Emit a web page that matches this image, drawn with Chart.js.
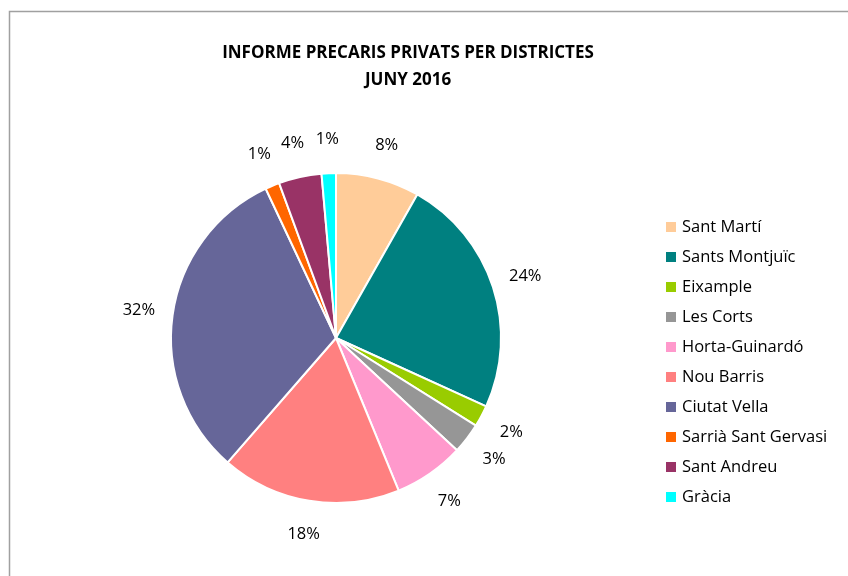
<!DOCTYPE html>
<html>
<head>
<meta charset="utf-8">
<script src="https://cdn.jsdelivr.net/npm/chart.js@4"></script>
<style>
  html, body { margin: 0; padding: 0; background: #fff; }
  #wrap { width: 848px; height: 576px; }
</style>
</head>
<body>
<div id="wrap"><canvas id="chart" width="848" height="576"></canvas></div>
<script>
// Dades (percentatges llegits del gràfic)
const districtes = ['Sant Martí', 'Sants Montjuïc', 'Eixample', 'Les Corts', 'Horta-Guinardó',
    'Nou Barris', 'Ciutat Vella', 'Sarrià Sant Gervasi', 'Sant Andreu', 'Gràcia'];
const valors = [8.2, 23.6, 2.1, 3.0, 6.9, 17.6, 31.6, 1.4, 4.2, 1.4];
const colors = ['#FFCC99', '#008080', '#99CC00', '#969696', '#FF99CC',
    '#FF8080', '#666699', '#FF6600', '#993366', '#00FFFF'];
const titol = ['INFORME PRECARIS PRIVATS PER DISTRICTES', 'JUNY 2016'];

const FONT = '"Open Sans", Lato, sans-serif';

// Marc gris del gràfic
const framePlugin = {
    id: 'frame',
    beforeDraw: function(chart) {
        const ctx = chart.ctx;
        ctx.save();
        ctx.strokeStyle = '#a0a0a0';
        ctx.lineWidth = 1.5;
        ctx.beginPath();
        ctx.moveTo(9.5, chart.height);
        ctx.lineTo(9.5, 11.5);
        ctx.lineTo(chart.width, 11.5);
        ctx.stroke();
        ctx.restore();
    }
};

// Títol en dues línies
const titlePlugin = {
    id: 'titol',
    afterDraw: function(chart) {
        const ctx = chart.ctx;
        ctx.save();
        ctx.font = 'bold 17px ' + FONT;
        ctx.fillStyle = '#000';
        ctx.textAlign = 'center';
        ctx.textBaseline = 'middle';
        titol.forEach(function(line, i) {
            ctx.fillText(line, 408, 53 + i * 27);
        });
        ctx.restore();
    }
};

// Llegenda a la dreta
const legendPlugin = {
    id: 'llegenda',
    afterDraw: function(chart) {
        const ctx = chart.ctx;
        const ds = chart.data.datasets[0];
        ctx.save();
        ctx.font = '16.5px ' + FONT;
        ctx.textAlign = 'left';
        ctx.textBaseline = 'middle';
        chart.data.labels.forEach(function(label, i) {
            const y = 227 + i * 30;
            ctx.fillStyle = ds.backgroundColor[i];
            ctx.fillRect(666, y - 5, 10, 10);
            ctx.fillStyle = '#000';
            ctx.fillText(label, 682, y);
        });
        ctx.restore();
    }
};

// Etiquetes de percentatge fora de cada porció
const pctLabels = {
    id: 'pctLabels',
    afterDatasetsDraw: function(chart) {
        const ctx = chart.ctx;
        const data = chart.data.datasets[0].data;
        const total = data.reduce((a, b) => a + b, 0);
        ctx.save();
        ctx.font = '16.5px ' + FONT;
        ctx.fillStyle = '#000';
        ctx.textAlign = 'center';
        ctx.textBaseline = 'middle';
        chart.getDatasetMeta(0).data.forEach(function(arc, i) {
            const p = arc.getProps(['x', 'y', 'startAngle', 'endAngle', 'outerRadius'], true);
            const mid = (p.startAngle + p.endAngle) / 2;
            const r = p.outerRadius + 34;
            const txt = Math.round(data[i] / total * 100) + '%';
            ctx.fillText(txt, p.x + Math.cos(mid) * r, p.y + Math.sin(mid) * r);
        });
        ctx.restore();
    }
};

new Chart(document.getElementById('chart'), {
    type: 'pie',
    data: {
        labels: districtes,
        datasets: [{
            data: valors,
            backgroundColor: colors,
            borderColor: '#ffffff',
            borderWidth: 2
        }]
    },
    options: {
        responsive: false,
        animation: false,
        layout: {
            padding: { left: 170, right: 346, top: 172, bottom: 72 }
        },
        plugins: {
            title: { display: false },
            legend: { display: false },
            tooltip: { enabled: false }
        }
    },
    plugins: [framePlugin, titlePlugin, legendPlugin, pctLabels]
});
</script>
</body>
</html>
